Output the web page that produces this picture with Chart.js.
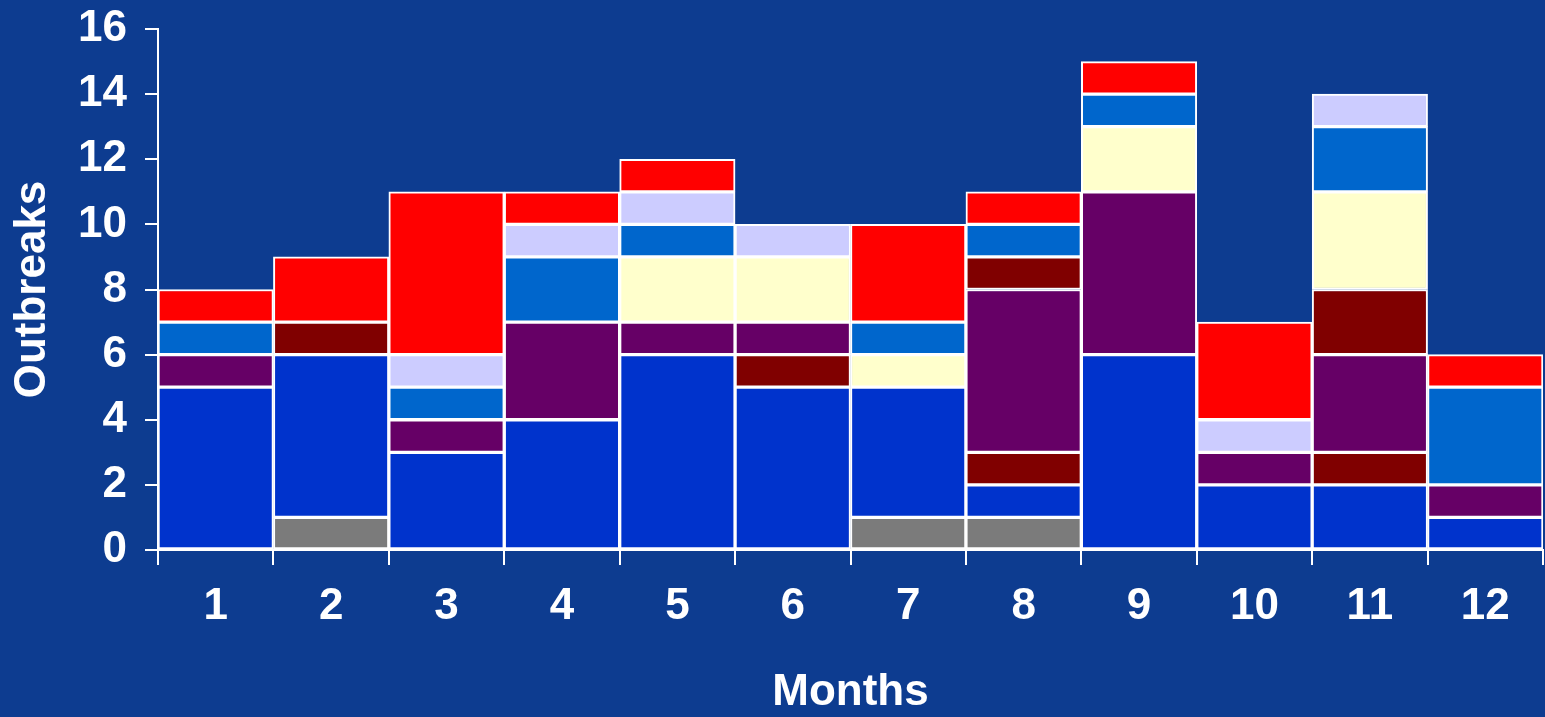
<!DOCTYPE html>
<html>
<head>
<meta charset="utf-8">
<script src="https://cdn.jsdelivr.net/npm/chart.js@4"></script>
<style>
  html, body { margin: 0; padding: 0; background: #0D3C90; }
  #wrap { width: 1545px; height: 717px; position: relative; }
</style>
</head>
<body>
<div id="wrap"><canvas id="outbreaks"></canvas></div>
<script>
const months = ['1', '2', '3', '4', '5', '6', '7', '8', '9', '10', '11', '12'];

// stacked from the bottom up
const grey     = [0, 1, 0, 0, 0, 0, 1, 1, 0, 0, 0, 0];
const blue     = [5, 5, 3, 4, 6, 5, 4, 1, 6, 2, 2, 1];
const maroonA  = [0, 0, 0, 0, 0, 1, 0, 1, 0, 0, 1, 0];
const purple   = [1, 0, 1, 3, 1, 1, 0, 5, 5, 1, 3, 1];
const maroonB  = [0, 1, 0, 0, 0, 0, 0, 1, 0, 0, 2, 0];
const cream    = [0, 0, 0, 0, 2, 2, 1, 0, 2, 0, 3, 0];
const midBlue  = [1, 0, 1, 2, 1, 0, 1, 1, 1, 0, 2, 3];
const lavender = [0, 0, 1, 1, 1, 1, 0, 0, 0, 1, 1, 0];
const red      = [1, 2, 5, 1, 1, 0, 3, 1, 1, 3, 0, 1];

const FONT = { family: '"Liberation Sans", Arial, sans-serif', size: 44, weight: 'bold', lineHeight: 1 };

function ds(label, data, color) {
  return {
    label: label,
    data: data,
    backgroundColor: color,
    borderColor: '#ffffff',
    borderWidth: 2,
    borderSkipped: false,
    categoryPercentage: 1,
    barPercentage: 1,
  };
}

new Chart(document.getElementById('outbreaks'), {
  type: 'bar',
  data: {
    labels: months,
    datasets: [
      ds('grey', grey, '#7b7b7b'),
      ds('blue', blue, '#0033CC'),
      ds('maroonA', maroonA, '#800000'),
      ds('purple', purple, '#660066'),
      ds('maroonB', maroonB, '#800000'),
      ds('cream', cream, '#FFFFCC'),
      ds('midBlue', midBlue, '#0066CC'),
      ds('lavender', lavender, '#CCCCFF'),
      ds('red', red, '#FF0000'),
    ],
  },
  options: {
    responsive: true,
    maintainAspectRatio: false,
    animation: false,
    layout: { padding: { top: 29, right: 2, left: 0, bottom: 0 } },
    plugins: {
      legend: { display: false },
      tooltip: { enabled: false },
    },
    scales: {
      x: {
        stacked: true,
        offset: true,
        grid: {
          offset: true,
          drawOnChartArea: false,
          drawTicks: true,
          tickLength: 15,
          color: '#ffffff',
          lineWidth: 2,
        },
        border: { color: '#ffffff', width: 2 },
        ticks: { color: '#ffffff', font: FONT, padding: 20, maxRotation: 0 },
        title: { display: true, text: 'Months', color: '#ffffff', font: FONT, padding: { top: 0, bottom: 2 } },
        afterFit: (scale) => {
          scale.height = 167;
          scale.paddingLeft = 0;
          scale.paddingRight = 0;
        },
      },
      y: {
        stacked: true,
        min: 0,
        max: 16,
        grid: {
          drawOnChartArea: false,
          tickLength: 13,
          color: '#ffffff',
          lineWidth: 2,
        },
        border: { color: '#ffffff', width: 2 },
        ticks: { stepSize: 2, color: '#ffffff', font: FONT, padding: 18 },
        title: { display: true, text: 'Outbreaks', color: '#ffffff', font: FONT, padding: { top: 11, bottom: 0 } },
        afterFit: (scale) => {
          scale.width = 158;
          scale.paddingTop = 0;
          scale.paddingBottom = 0;
        },
      },
    },
  },
});
</script>
</body>
</html>
